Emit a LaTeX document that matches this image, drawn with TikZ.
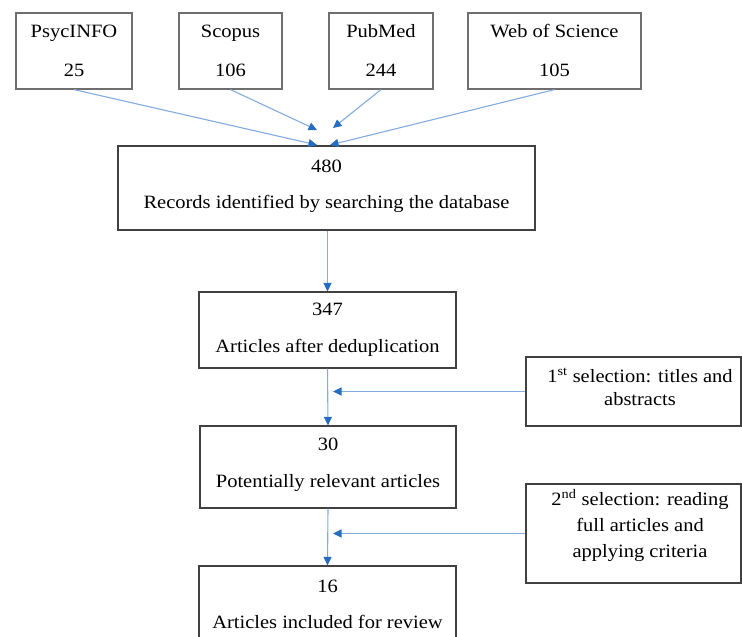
\documentclass[tikz,border=0pt]{standalone}
\usepackage{fontspec}
\setmainfont[FakeStretch=1.09]{Liberation Serif}
\usetikzlibrary{arrows.meta}
\definecolor{lineblue}{RGB}{130,172,224}
\definecolor{tipblue}{RGB}{38,108,192}
\definecolor{boxgray}{RGB}{65,65,65}
\definecolor{srcgray}{RGB}{110,110,110}
\begin{document}
\begin{tikzpicture}[x=1pt,y=-1pt,
  box/.style={draw=boxgray, line width=1.2pt, inner sep=0pt, rectangle},
  srcbox/.style={box, draw=srcgray, minimum height=76pt},
  txt/.style={anchor=base, inner sep=0pt, font=\fontsize{18.8}{22}\selectfont},
  flow/.style={draw=lineblue, line width=1.1pt, -{Triangle[length=8.5pt,width=8pt,color=tipblue]}}]
\useasboundingbox (0,0) rectangle (742,637);
\clip (0,0) rectangle (742,637);
% source boxes
\node[srcbox, minimum width=116pt] (psy) at (74,51) {};
\node[srcbox, minimum width=103pt] (sco) at (230.5,51) {};
\node[srcbox, minimum width=104pt] (pub) at (381,51) {};
\node[srcbox, minimum width=173pt] (wos) at (554.5,51) {};
\node[txt] (psyA) at (74,37) {PsycINFO};
\node[txt] (psyB) at (74,76) {25};
\node[txt] (scoA) at (230.5,37) {Scopus};
\node[txt] (scoB) at (230.5,76) {106};
\node[txt] (pubA) at (381,37) {PubMed};
\node[txt] (pubB) at (381,76) {244};
\node[txt] (wosA) at (554.5,37) {Web of Science};
\node[txt] (wosB) at (554.5,76) {105};
% main column
\node[box, minimum width=417pt, minimum height=84pt] (rec) at (326.5,188) {};
\node[txt] (recA) at (326.5,172) {480};
\node[txt] (recB) at (326.5,208) {Records identified by searching the database};
\node[box, minimum width=257pt, minimum height=76pt] (dedup) at (327.5,330) {};
\node[txt] (dedupA) at (327.5,315) {347};
\node[txt] (dedupB) at (327.5,352) {Articles after deduplication};
\node[box, minimum width=256pt, minimum height=82pt] (rel) at (328,467) {};
\node[txt] (relA) at (328,450) {30};
\node[txt] (relB) at (328,487) {Potentially relevant articles};
\node[box, minimum width=257pt, minimum height=79pt] (inc) at (327.5,605.5) {};
\node[txt] (incA) at (327.5,592) {16};
\node[txt] (incB) at (327.5,628) {Articles included for review};
% side boxes
\node[box, minimum width=215pt, minimum height=69pt] (sel1) at (633.5,391.5) {};
\node[txt] (sel1A) at (640,382) {1\textsuperscript{st} selection: titles and};
\node[txt] (sel1B) at (640,405) {abstracts};
\node[box, minimum width=215pt, minimum height=99pt] (sel2) at (633.5,533.5) {};
\node[txt] (sel2A) at (640,505) {2\textsuperscript{nd} selection: reading};
\node[txt] (sel2B) at (640,531) {full articles and};
\node[txt] (sel2C) at (640,557) {applying criteria};
% connectors
\coordinate (t1) at (317,145);
\coordinate (t2) at (317,130);
\coordinate (t3) at (333,128);
\coordinate (t4) at (330,145);
\draw[flow] (psy.south) -- (t1);
\draw[flow] (sco.south) -- (t2);
\draw[flow] (pub.south) -- (t3);
\draw[flow] (wos.south) -- (t4);
\draw[flow] (rec.south -| dedup.north) -- (dedup.north);
\draw[flow] (dedup.south) -- (rel.north);
\draw[flow] (rel.south) -- (inc.north);
\coordinate (s1) at (333,392);
\coordinate (s2) at (333,535);
\draw[flow] (sel1.west) -- (sel1.west -| s1);
\draw[flow] (sel2.west) -- (sel2.west -| s2);
\end{tikzpicture}
\end{document}
